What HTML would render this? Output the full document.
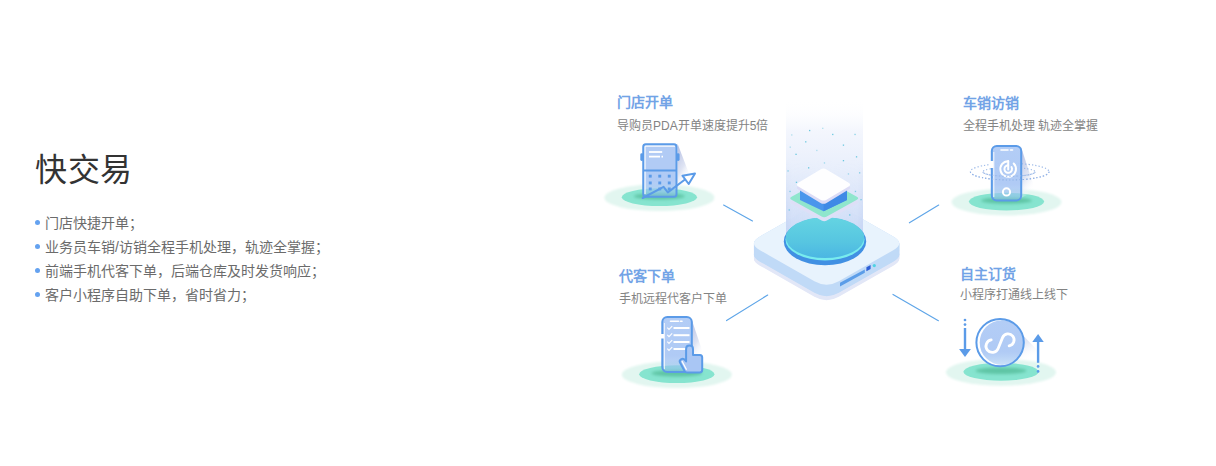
<!DOCTYPE html>
<html lang="zh-CN"><head><meta charset="utf-8">
<style>
html,body{margin:0;padding:0;background:#fff;width:1216px;height:466px;overflow:hidden;font-family:"Liberation Sans",sans-serif;}
.abs{position:absolute;}
.title{position:absolute;left:35px;top:150px;font-size:32px;letter-spacing:0.5px;color:#333;line-height:40px;white-space:nowrap;}
.list{position:absolute;left:34px;top:211px;margin:0;padding:0;list-style:none;}
.list li{position:relative;padding-left:11px;font-size:14px;line-height:24px;color:#6b6b6b;white-space:nowrap;}
.list li:before{content:"";position:absolute;left:0.8px;top:8.8px;width:5.4px;height:5.4px;border-radius:50%;background:#64a2f0;}
.h{position:absolute;font-size:14px;font-weight:bold;color:#72a3e6;white-space:nowrap;line-height:16px;}
.s{position:absolute;font-size:12px;color:#838383;white-space:nowrap;line-height:14px;}
</style></head><body>
<svg width="1216" height="466" viewBox="0 0 1216 466" style="position:absolute;left:0;top:0"><defs>
<filter id="bl1" x="-20%" y="-50%" width="140%" height="200%"><feGaussianBlur stdDeviation="1.2"/></filter>
<filter id="bl2" x="-20%" y="-80%" width="140%" height="260%"><feGaussianBlur stdDeviation="1.6"/></filter>
<linearGradient id="beam" x1="0" y1="0" x2="0" y2="1">
 <stop offset="0" stop-color="#ffffff" stop-opacity="0"/>
 <stop offset="0.2" stop-color="#f2f5fd" stop-opacity="0.95"/>
 <stop offset="0.45" stop-color="#e6edfb"/>
 <stop offset="0.75" stop-color="#d2dff8"/>
 <stop offset="1" stop-color="#bcd0f5"/>
</linearGradient>
<linearGradient id="beamEdge" x1="0" y1="0" x2="1" y2="0">
 <stop offset="0" stop-color="#b8c9f0" stop-opacity="0.5"/>
 <stop offset="0.08" stop-color="#b8c9f0" stop-opacity="0.1"/>
 <stop offset="0.5" stop-color="#ffffff" stop-opacity="0.25"/>
 <stop offset="0.92" stop-color="#b8c9f0" stop-opacity="0.1"/>
 <stop offset="1" stop-color="#b8c9f0" stop-opacity="0.5"/>
</linearGradient>
<linearGradient id="beamFade" x1="0" y1="0" x2="0" y2="1">
 <stop offset="0" stop-color="#fff" stop-opacity="0"/>
 <stop offset="0.35" stop-color="#fff" stop-opacity="0"/>
 <stop offset="1" stop-color="#fff" stop-opacity="1"/>
</linearGradient>
<mask id="beamMask"><rect x="780" y="99" width="90" height="170" fill="url(#beamFade)"/></mask>
<linearGradient id="disc" x1="0" y1="0" x2="0" y2="1">
 <stop offset="0" stop-color="#64d4e2"/>
 <stop offset="0.6" stop-color="#57c6e1"/>
 <stop offset="1" stop-color="#4bb6e3"/>
</linearGradient>
<linearGradient id="side" x1="0" y1="0" x2="0" y2="1">
 <stop offset="0" stop-color="#c3dcf8"/>
 <stop offset="1" stop-color="#b3d2f5"/>
</linearGradient>
<radialGradient id="eOuter" cx="0.5" cy="0.5" r="0.5">
 <stop offset="0" stop-color="#dbf4ec"/>
 <stop offset="0.8" stop-color="#e0f6ef"/>
 <stop offset="0.93" stop-color="#e8f8f3" stop-opacity="0.8"/>
 <stop offset="1" stop-color="#f2fbf8" stop-opacity="0.2"/>
</radialGradient>
<radialGradient id="eCore" cx="0.5" cy="0.5" r="0.5">
 <stop offset="0" stop-color="#5bc4a3"/>
 <stop offset="0.55" stop-color="#63c9a9" stop-opacity="0.9"/>
 <stop offset="1" stop-color="#86e3cd" stop-opacity="0"/>
</radialGradient>
<linearGradient id="dev" x1="0" y1="0" x2="0" y2="1">
 <stop offset="0" stop-color="#b3cdf6"/>
 <stop offset="0.7" stop-color="#a9c6f4" stop-opacity="0.92"/>
 <stop offset="1" stop-color="#8fbcf0" stop-opacity="0.45"/>
</linearGradient>
<linearGradient id="shadow" x1="0" y1="0" x2="0.4" y2="1">
 <stop offset="0" stop-color="#b4bee2"/>
 <stop offset="0.6" stop-color="#dfe4f3"/>
 <stop offset="1" stop-color="#ffffff" stop-opacity="0"/>
</linearGradient>
</defs>
<g stroke="#5ea5e8" stroke-width="1.15" stroke-linecap="round">
<line x1="723.6" y1="205.1" x2="752.5" y2="220.9"/>
<line x1="909.4" y1="222.8" x2="938.7" y2="205.1"/>
<line x1="726.6" y1="320.6" x2="767.7" y2="295"/>
<line x1="893" y1="294.4" x2="938.4" y2="320.7"/>
</g>
<path d="M759.97 247.88 L814.43 216.92 Q826.60 210.00 838.77 216.92 L893.23 247.88 Q905.40 254.80 893.23 261.72 L838.77 292.68 Q826.60 299.60 814.43 292.68 L759.97 261.72 Q747.80 254.80 759.97 247.88Z" fill="#e2e7f7"/>
<path d="M759.97 248.38 L814.43 217.42 Q826.60 210.50 838.77 217.42 L893.23 248.38 Q905.40 255.30 893.23 262.22 L838.77 293.18 Q826.60 300.10 814.43 293.18 L759.97 262.22 Q747.80 255.30 759.97 248.38Z" fill="#e2e7f7"/>
<path d="M759.97 248.88 L814.43 217.92 Q826.60 211.00 838.77 217.92 L893.23 248.88 Q905.40 255.80 893.23 262.72 L838.77 293.68 Q826.60 300.60 814.43 293.68 L759.97 262.72 Q747.80 255.80 759.97 248.88Z" fill="#e2e7f7"/>
<path d="M759.97 249.38 L814.43 218.42 Q826.60 211.50 838.77 218.42 L893.23 249.38 Q905.40 256.30 893.23 263.22 L838.77 294.18 Q826.60 301.10 814.43 294.18 L759.97 263.22 Q747.80 256.30 759.97 249.38Z" fill="#e2e7f7"/>
<path d="M759.97 249.88 L814.43 218.92 Q826.60 212.00 838.77 218.92 L893.23 249.88 Q905.40 256.80 893.23 263.72 L838.77 294.68 Q826.60 301.60 814.43 294.68 L759.97 263.72 Q747.80 256.80 759.97 249.88Z" fill="#e2e7f7"/>
<path d="M759.97 250.38 L814.43 219.42 Q826.60 212.50 838.77 219.42 L893.23 250.38 Q905.40 257.30 893.23 264.22 L838.77 295.18 Q826.60 302.10 814.43 295.18 L759.97 264.22 Q747.80 257.30 759.97 250.38Z" fill="#e2e7f7"/>
<path d="M759.97 250.88 L814.43 219.92 Q826.60 213.00 838.77 219.92 L893.23 250.88 Q905.40 257.80 893.23 264.72 L838.77 295.68 Q826.60 302.60 814.43 295.68 L759.97 264.72 Q747.80 257.80 759.97 250.88Z" fill="#e2e7f7"/>
<path d="M759.97 251.38 L814.43 220.42 Q826.60 213.50 838.77 220.42 L893.23 251.38 Q905.40 258.30 893.23 265.22 L838.77 296.18 Q826.60 303.10 814.43 296.18 L759.97 265.22 Q747.80 258.30 759.97 251.38Z" fill="#e2e7f7"/>
<path d="M759.97 251.88 L814.43 220.92 Q826.60 214.00 838.77 220.92 L893.23 251.88 Q905.40 258.80 893.23 265.72 L838.77 296.68 Q826.60 303.60 814.43 296.68 L759.97 265.72 Q747.80 258.80 759.97 251.88Z" fill="#e2e7f7"/>
<path d="M759.97 236.38 L814.43 205.42 Q826.60 198.50 838.77 205.42 L893.23 236.38 Q905.40 243.30 893.23 250.22 L838.77 281.18 Q826.60 288.10 814.43 281.18 L759.97 250.22 Q747.80 243.30 759.97 236.38Z" fill="#c0daf7"/>
<path d="M759.97 236.88 L814.43 205.92 Q826.60 199.00 838.77 205.92 L893.23 236.88 Q905.40 243.80 893.23 250.72 L838.77 281.68 Q826.60 288.60 814.43 281.68 L759.97 250.72 Q747.80 243.80 759.97 236.88Z" fill="#c0daf7"/>
<path d="M759.97 237.38 L814.43 206.42 Q826.60 199.50 838.77 206.42 L893.23 237.38 Q905.40 244.30 893.23 251.22 L838.77 282.18 Q826.60 289.10 814.43 282.18 L759.97 251.22 Q747.80 244.30 759.97 237.38Z" fill="#c0daf7"/>
<path d="M759.97 237.88 L814.43 206.92 Q826.60 200.00 838.77 206.92 L893.23 237.88 Q905.40 244.80 893.23 251.72 L838.77 282.68 Q826.60 289.60 814.43 282.68 L759.97 251.72 Q747.80 244.80 759.97 237.88Z" fill="#c0daf7"/>
<path d="M759.97 238.38 L814.43 207.42 Q826.60 200.50 838.77 207.42 L893.23 238.38 Q905.40 245.30 893.23 252.22 L838.77 283.18 Q826.60 290.10 814.43 283.18 L759.97 252.22 Q747.80 245.30 759.97 238.38Z" fill="#c0daf7"/>
<path d="M759.97 238.88 L814.43 207.92 Q826.60 201.00 838.77 207.92 L893.23 238.88 Q905.40 245.80 893.23 252.72 L838.77 283.68 Q826.60 290.60 814.43 283.68 L759.97 252.72 Q747.80 245.80 759.97 238.88Z" fill="#c0daf7"/>
<path d="M759.97 239.38 L814.43 208.42 Q826.60 201.50 838.77 208.42 L893.23 239.38 Q905.40 246.30 893.23 253.22 L838.77 284.18 Q826.60 291.10 814.43 284.18 L759.97 253.22 Q747.80 246.30 759.97 239.38Z" fill="#c0daf7"/>
<path d="M759.97 239.88 L814.43 208.92 Q826.60 202.00 838.77 208.92 L893.23 239.88 Q905.40 246.80 893.23 253.72 L838.77 284.68 Q826.60 291.60 814.43 284.68 L759.97 253.72 Q747.80 246.80 759.97 239.88Z" fill="#c0daf7"/>
<path d="M759.97 240.38 L814.43 209.42 Q826.60 202.50 838.77 209.42 L893.23 240.38 Q905.40 247.30 893.23 254.22 L838.77 285.18 Q826.60 292.10 814.43 285.18 L759.97 254.22 Q747.80 247.30 759.97 240.38Z" fill="#c0daf7"/>
<path d="M759.97 240.88 L814.43 209.92 Q826.60 203.00 838.77 209.92 L893.23 240.88 Q905.40 247.80 893.23 254.72 L838.77 285.68 Q826.60 292.60 814.43 285.68 L759.97 254.72 Q747.80 247.80 759.97 240.88Z" fill="#c0daf7"/>
<path d="M759.97 241.38 L814.43 210.42 Q826.60 203.50 838.77 210.42 L893.23 241.38 Q905.40 248.30 893.23 255.22 L838.77 286.18 Q826.60 293.10 814.43 286.18 L759.97 255.22 Q747.80 248.30 759.97 241.38Z" fill="#c0daf7"/>
<path d="M759.97 241.88 L814.43 210.92 Q826.60 204.00 838.77 210.92 L893.23 241.88 Q905.40 248.80 893.23 255.72 L838.77 286.68 Q826.60 293.60 814.43 286.68 L759.97 255.72 Q747.80 248.80 759.97 241.88Z" fill="#c0daf7"/>
<path d="M759.97 242.38 L814.43 211.42 Q826.60 204.50 838.77 211.42 L893.23 242.38 Q905.40 249.30 893.23 256.22 L838.77 287.18 Q826.60 294.10 814.43 287.18 L759.97 256.22 Q747.80 249.30 759.97 242.38Z" fill="#c0daf7"/>
<path d="M759.97 242.88 L814.43 211.92 Q826.60 205.00 838.77 211.92 L893.23 242.88 Q905.40 249.80 893.23 256.72 L838.77 287.68 Q826.60 294.60 814.43 287.68 L759.97 256.72 Q747.80 249.80 759.97 242.88Z" fill="#c0daf7"/>
<path d="M759.97 243.38 L814.43 212.42 Q826.60 205.50 838.77 212.42 L893.23 243.38 Q905.40 250.30 893.23 257.22 L838.77 288.18 Q826.60 295.10 814.43 288.18 L759.97 257.22 Q747.80 250.30 759.97 243.38Z" fill="#c0daf7"/>
<path d="M759.97 243.88 L814.43 212.92 Q826.60 206.00 838.77 212.92 L893.23 243.88 Q905.40 250.80 893.23 257.72 L838.77 288.68 Q826.60 295.60 814.43 288.68 L759.97 257.72 Q747.80 250.80 759.97 243.88Z" fill="#c0daf7"/>
<path d="M759.97 244.38 L814.43 213.42 Q826.60 206.50 838.77 213.42 L893.23 244.38 Q905.40 251.30 893.23 258.22 L838.77 289.18 Q826.60 296.10 814.43 289.18 L759.97 258.22 Q747.80 251.30 759.97 244.38Z" fill="#c0daf7"/>
<path d="M759.97 244.88 L814.43 213.92 Q826.60 207.00 838.77 213.92 L893.23 244.88 Q905.40 251.80 893.23 258.72 L838.77 289.68 Q826.60 296.60 814.43 289.68 L759.97 258.72 Q747.80 251.80 759.97 244.88Z" fill="#c0daf7"/>
<path d="M759.97 245.38 L814.43 214.42 Q826.60 207.50 838.77 214.42 L893.23 245.38 Q905.40 252.30 893.23 259.22 L838.77 290.18 Q826.60 297.10 814.43 290.18 L759.97 259.22 Q747.80 252.30 759.97 245.38Z" fill="#c0daf7"/>
<path d="M759.97 245.88 L814.43 214.92 Q826.60 208.00 838.77 214.92 L893.23 245.88 Q905.40 252.80 893.23 259.72 L838.77 290.68 Q826.60 297.60 814.43 290.68 L759.97 259.72 Q747.80 252.80 759.97 245.88Z" fill="#c0daf7"/>
<path d="M759.97 246.38 L814.43 215.42 Q826.60 208.50 838.77 215.42 L893.23 246.38 Q905.40 253.30 893.23 260.22 L838.77 291.18 Q826.60 298.10 814.43 291.18 L759.97 260.22 Q747.80 253.30 759.97 246.38Z" fill="#c0daf7"/>
<path d="M759.97 246.88 L814.43 215.92 Q826.60 209.00 838.77 215.92 L893.23 246.88 Q905.40 253.80 893.23 260.72 L838.77 291.68 Q826.60 298.60 814.43 291.68 L759.97 260.72 Q747.80 253.80 759.97 246.88Z" fill="#c0daf7"/>
<path d="M759.97 247.38 L814.43 216.42 Q826.60 209.50 838.77 216.42 L893.23 247.38 Q905.40 254.30 893.23 261.22 L838.77 292.18 Q826.60 299.10 814.43 292.18 L759.97 261.22 Q747.80 254.30 759.97 247.38Z" fill="#c0daf7"/>
<path d="M759.97 247.88 L814.43 216.92 Q826.60 210.00 838.77 216.92 L893.23 247.88 Q905.40 254.80 893.23 261.72 L838.77 292.68 Q826.60 299.60 814.43 292.68 L759.97 261.72 Q747.80 254.80 759.97 247.88Z" fill="#c0daf7"/>
<path d="M759.97 236.38 L814.43 205.42 Q826.60 198.50 838.77 205.42 L893.23 236.38 Q905.40 243.30 893.23 250.22 L838.77 281.18 Q826.60 288.10 814.43 281.18 L759.97 250.22 Q747.80 243.30 759.97 236.38Z" fill="#e8f3fd"/>
<path d="M840 282.8 L864.8 269.4 L864.8 272.8 L840 286.6 Z" fill="#5b9de8"/>
<path d="M866.4 267.2 L870.6 264.9 L870.6 269 L866.4 271.3 Z" fill="#2d5fd6"/>
<circle cx="874.3" cy="265.6" r="1.6" fill="#4fd3e3"/>
<path d="M786 99 L863 99 L863 238 A38.5 20 0 0 1 786 238 Z" fill="url(#beam)" opacity="0.92"/>
<path d="M786 99 L863 99 L863 238 A38.5 20 0 0 1 786 238 Z" fill="url(#beamEdge)" mask="url(#beamMask)"/>
<ellipse cx="825" cy="241.4" rx="41.2" ry="23.9" fill="#4190e3"/>
<ellipse cx="825" cy="239.4" rx="39.5" ry="21" fill="#78ecee"/>
<ellipse cx="825" cy="237.6" rx="39.2" ry="20.4" fill="url(#disc)"/>
<path d="M791.52 200.84 L821.58 184.16 Q824.20 182.70 826.82 184.16 L856.88 200.84 Q859.50 202.30 856.88 203.76 L826.82 220.44 Q824.20 221.90 821.58 220.44 L791.52 203.76 Q788.90 202.30 791.52 200.84Z" fill="#dedff7"/>
<path d="M791.52 196.84 L821.58 180.16 Q824.20 178.70 826.82 180.16 L856.88 196.84 Q859.50 198.30 856.88 199.76 L826.82 216.44 Q824.20 217.90 821.58 216.44 L791.52 199.76 Q788.90 198.30 791.52 196.84Z" fill="#8fe6cd"/>
<path d="M800 186 L800 200 L823.6 211.2 L847 200 L847 186 Z" fill="#4a96ec"/>
<path d="M823.6 199 L823.6 211.2 L847 200 L847 186 Z" fill="#3f8ae6"/>
<path d="M798.30 186.00 L820.50 172.70 Q823.50 170.90 826.50 172.70 L848.70 186.00 Q851.70 187.80 848.70 189.60 L826.50 202.90 Q823.50 204.70 820.50 202.90 L798.30 189.60 Q795.30 187.80 798.30 186.00Z" fill="#dcdcf6"/>
<path d="M798.30 182.80 L820.50 169.50 Q823.50 167.70 826.50 169.50 L848.70 182.80 Q851.70 184.60 848.70 186.40 L826.50 199.70 Q823.50 201.50 820.50 199.70 L798.30 186.40 Q795.30 184.60 798.30 182.80Z" fill="#fefeff"/>
<g fill="#3fb9d6">
<rect x="809.0" y="129.9" width="1.3" height="1.3" opacity="0.75"/>
<rect x="822.1" y="127.7" width="1.3" height="1.3" opacity="0.38"/>
<rect x="791.1" y="134.3" width="1.3" height="1.3" opacity="0.38"/>
<rect x="832.1" y="133.8" width="1.3" height="1.3" opacity="0.75"/>
<rect x="854.4" y="133.8" width="1.3" height="1.3" opacity="0.60"/>
<rect x="805.1" y="141.2" width="1.3" height="1.3" opacity="0.75"/>
<rect x="842.8" y="144.5" width="1.3" height="1.3" opacity="0.75"/>
<rect x="789.6" y="146.5" width="1.3" height="1.3" opacity="0.38"/>
<rect x="816.2" y="149.8" width="1.3" height="1.3" opacity="0.38"/>
<rect x="795.4" y="153.7" width="1.3" height="1.3" opacity="0.75"/>
<rect x="855.9" y="156.2" width="1.3" height="1.3" opacity="0.75"/>
<rect x="842.8" y="160.0" width="1.3" height="1.3" opacity="0.75"/>
<rect x="823.8" y="162.3" width="1.3" height="1.3" opacity="0.45"/>
<rect x="808.0" y="167.2" width="1.3" height="1.3" opacity="0.75"/>
<rect x="787.4" y="170.3" width="1.3" height="1.3" opacity="0.60"/>
<rect x="859.0" y="172.2" width="1.3" height="1.3" opacity="0.60"/>
<rect x="847.8" y="173.3" width="1.3" height="1.3" opacity="0.45"/>
<rect x="795.8" y="181.7" width="1.3" height="1.3" opacity="0.75"/>
<rect x="789.4" y="190.8" width="1.3" height="1.3" opacity="0.60"/>
<rect x="854.8" y="190.8" width="1.3" height="1.3" opacity="0.60"/>
<rect x="860.4" y="199.0" width="1.3" height="1.3" opacity="0.60"/>
<rect x="788.6" y="209.3" width="1.3" height="1.3" opacity="0.60"/>
<rect x="849.1" y="214.3" width="1.3" height="1.3" opacity="0.75"/>
</g>
<ellipse cx="659.4" cy="197.7" rx="55" ry="13.4" fill="#e2f6f0" filter="url(#bl1)"/>
<ellipse cx="659.4" cy="197.2" rx="37.6" ry="8.9" fill="#86e4cf"/>
<ellipse cx="659.4" cy="196.2" rx="25.5" ry="3.2" fill="#5fc5a5" filter="url(#bl2)"/>
<ellipse cx="1006.5" cy="202.1" rx="55" ry="13.4" fill="#e2f6f0" filter="url(#bl1)"/>
<ellipse cx="1006.5" cy="201.6" rx="37.6" ry="8.9" fill="#86e4cf"/>
<ellipse cx="1006.5" cy="200.6" rx="25.5" ry="3.2" fill="#5fc5a5" filter="url(#bl2)"/>
<ellipse cx="676.8" cy="374.7" rx="55" ry="13.4" fill="#e2f6f0" filter="url(#bl1)"/>
<ellipse cx="676.8" cy="374.2" rx="37.6" ry="8.9" fill="#86e4cf"/>
<ellipse cx="676.8" cy="373.2" rx="25.5" ry="3.2" fill="#5fc5a5" filter="url(#bl2)"/>
<ellipse cx="1001.0" cy="372.3" rx="55" ry="13.4" fill="#e2f6f0" filter="url(#bl1)"/>
<ellipse cx="1001.0" cy="371.8" rx="37.6" ry="8.9" fill="#86e4cf"/>
<ellipse cx="1001.0" cy="370.8" rx="25.5" ry="3.2" fill="#5fc5a5" filter="url(#bl2)"/>
<path d="M677.5 143.5 L689 173.5 L683 185 L677.5 190 Z" fill="url(#shadow)"/>
<path d="M643.25 144.3 h33.25 v52.5 h-33.25 Z" fill="url(#dev)" />
<rect x="643.25" y="144.3" width="33.25" height="26" fill="#b1cbf5"/>
<rect x="640.3" y="153.3" width="3" height="7.7" rx="1.4" fill="#5b9be8"/>
<rect x="676.6" y="153.3" width="3" height="7.7" rx="1.4" fill="#5b9be8"/>
<path d="M644.9 194 V146 H675" stroke="#ffffff" stroke-width="1.4" fill="none" opacity="0.95"/>
<rect x="643.25" y="144.3" width="33.25" height="52.5" rx="2.5" fill="none" stroke="#5b9be8" stroke-width="2"/>
<line x1="643.25" y1="170.4" x2="676.5" y2="170.4" stroke="#5b9be8" stroke-width="2"/>
<g stroke="#ffffff" stroke-width="1.8"><line x1="649" y1="152" x2="662.2" y2="152"/><line x1="649" y1="156.6" x2="660" y2="156.6"/><line x1="661.5" y1="156.6" x2="663" y2="156.6"/></g>
<g fill="#5b9be8">
<rect x="648.8" y="174.7" width="2.9" height="2.9"/>
<rect x="648.8" y="181.5" width="2.9" height="2.9"/>
<rect x="648.8" y="187.5" width="2.9" height="2.9"/>
<rect x="658.3" y="174.7" width="2.9" height="2.9"/>
<rect x="658.3" y="181.5" width="2.9" height="2.9"/>
<rect x="658.3" y="187.5" width="2.9" height="2.9"/>
<rect x="667.8" y="174.7" width="2.9" height="2.9"/>
<rect x="667.8" y="181.5" width="2.9" height="2.9"/>
<rect x="667.8" y="187.5" width="2.9" height="2.9"/>
</g>
<path d="M642.7 198 L663.6 186.8 L667.8 192.4 L685 179.5" stroke="#5b9be8" stroke-width="2" fill="none" stroke-linejoin="round" stroke-linecap="round"/>
<path d="M682.4 175.7 L695 173.6 L688.7 184 Z" stroke="#5b9be8" stroke-width="2" fill="#ffffff" stroke-linejoin="round"/>
<path d="M1021 147 L1035.5 191 L1021 198 Z" fill="url(#shadow)"/>
<g stroke="#93b3e6" stroke-width="1.1" fill="none" stroke-dasharray="1.3 2.1" opacity="0.95">
<ellipse cx="1009.7" cy="171.7" rx="39.3" ry="8.3"/>
<ellipse cx="1009" cy="171.9" rx="26" ry="4.4"/>
</g>
<rect x="991.8" y="145.9" width="29.4" height="54.5" rx="5" fill="url(#dev)"/>
<path d="M993.8 197 V152" stroke="#ffffff" stroke-width="1" opacity="0.9"/>
<rect x="991.8" y="145.9" width="29.4" height="54.5" rx="5" fill="none" stroke="#5b9be8" stroke-width="2"/>
<rect x="990" y="161" width="3.5" height="7" fill="#ffffff"/>
<g stroke="#ffffff" stroke-width="1.6" stroke-linecap="round"><line x1="1001" y1="150" x2="1008" y2="150"/><line x1="1010.5" y1="150" x2="1012.5" y2="150"/></g>
<g stroke="#ffffff" stroke-width="1.8" fill="none" stroke-linecap="round">
<path d="M1008.2 161.2 A7.8 7.8 0 1 0 1013.7 163.5" stroke-width="2"/>
<path d="M1008.2 165.2 A3.8 3.8 0 1 0 1011.5 167.1" stroke-width="2"/>
<line x1="1008.2" y1="161" x2="1008.2" y2="169.6" stroke-width="2"/>
<circle cx="1006.5" cy="191.9" r="3.6" stroke-width="2"/>
</g>
<g stroke="#93b3e6" stroke-width="1.1" fill="none" stroke-dasharray="1.3 2.1" opacity="0.95">
<path d="M970.4 171.7 A39.3 8.3 0 0 0 1049 171.7"/>
<path d="M983 171.9 A26 4.4 0 0 0 1035 171.9"/>
</g>
<path d="M691.5 319 L704 356 L691.5 362 Z" fill="url(#shadow)"/>
<rect x="662.3" y="317" width="29.5" height="55" rx="5" fill="url(#dev)"/>
<path d="M664.3 369 V323" stroke="#ffffff" stroke-width="1" opacity="0.9"/>
<rect x="662.3" y="317" width="29.5" height="55" rx="5" fill="none" stroke="#5b9be8" stroke-width="2"/>
<rect x="660.5" y="334" width="3.5" height="4.5" fill="#ffffff"/>
<g stroke="#ffffff" stroke-width="1.6" stroke-linecap="round"><line x1="670.5" y1="321.3" x2="678.5" y2="321.3"/><line x1="680.5" y1="321.3" x2="682" y2="321.3"/></g>
<g stroke="#ffffff" stroke-width="2" fill="none">
<line x1="673.5" y1="328.0" x2="689.5" y2="328.0"/>
<line x1="673.5" y1="335.2" x2="689.5" y2="335.2"/>
<line x1="673.5" y1="342.0" x2="689.5" y2="342.0"/>
<line x1="673.5" y1="349.0" x2="689.5" y2="349.0"/>
</g>
<g stroke="#ffffff" stroke-width="1.2" fill="none" opacity="0.95">
<path d="M667.3 327.7 l1.7 1.7 l3.2 -3.2"/>
<path d="M667.3 334.9 l1.7 1.7 l3.2 -3.2"/>
<path d="M667.3 341.7 l1.7 1.7 l3.2 -3.2"/>
<path d="M667.3 348.7 l1.7 1.7 l3.2 -3.2"/>
</g>
<path d="M686.1 349 Q686.1 345.6 689.5 345.6 Q693 345.6 693 349 V354.9 H700 Q702.2 354.9 702.2 357.5 V370 Q702.2 372.4 699.8 372.4 H687 Q685.5 372.4 684.6 371 L680 362.5 Q679 360.5 681 359.3 Q683.3 358 685 360 L686.1 361.5 Z" fill="#a9c6f4" stroke="#5b9be8" stroke-width="2" stroke-linejoin="round"/>
<line x1="682.2" y1="361.5" x2="686.3" y2="369.2" stroke="#ffffff" stroke-width="1.3" stroke-linecap="round"/>
<path d="M1014 326 L1039 352 L1030 362 L1005 364 Z" fill="url(#shadow)" opacity="0.8"/>
<circle cx="1000.1" cy="342.6" r="23.7" fill="#ffffff"/>
<circle cx="1002" cy="342.6" r="22.3" fill="url(#dev)"/>
<circle cx="1000.1" cy="342.6" r="23.7" fill="none" stroke="#5b9be8" stroke-width="2"/>
<path d="M991.21 339.90 A6.3 6.3 0 1 0 998.14 348.47 L1002.54 337.64 A6.0 6.0 0 1 1 1009.14 345.81" stroke="#ffffff" stroke-width="2.8" fill="none" stroke-linecap="round"/>
<g fill="#5b9be8">
<circle cx="965" cy="320" r="1.35"/><circle cx="965" cy="324.6" r="1.35"/>
<rect x="963.8" y="328" width="2.4" height="22"/>
<path d="M959.1 349 H970.9 L965 357 Z"/>
<path d="M1038.1 333.9 L1043.75 341.9 H1032.3 Z"/>
<rect x="1036.9" y="341.5" width="2.4" height="21.3"/>
<circle cx="1038.1" cy="366.4" r="1.35"/><circle cx="1038.1" cy="371.4" r="1.35"/>
</g></svg>
<div class="title">快交易</div>
<ul class="list">
<li>门店快捷开单；</li>
<li>业务员车销/访销全程手机处理，轨迹全掌握；</li>
<li>前端手机代客下单，后端仓库及时发货响应；</li>
<li>客户小程序自助下单，省时省力；</li>
</ul>
<div class="h" style="left:617px;top:94px">门店开单</div>
<div class="s" style="left:617px;top:119px">导购员PDA开单速度提升5倍</div>
<div class="h" style="left:963px;top:95px">车销访销</div>
<div class="s" style="left:963px;top:118.6px">全程手机处理 轨迹全掌握</div>
<div class="h" style="left:619px;top:268px">代客下单</div>
<div class="s" style="left:619px;top:291.5px">手机远程代客户下单</div>
<div class="h" style="left:960px;top:266px">自主订货</div>
<div class="s" style="left:960px;top:287.6px">小程序打通线上线下</div>
</body></html>
